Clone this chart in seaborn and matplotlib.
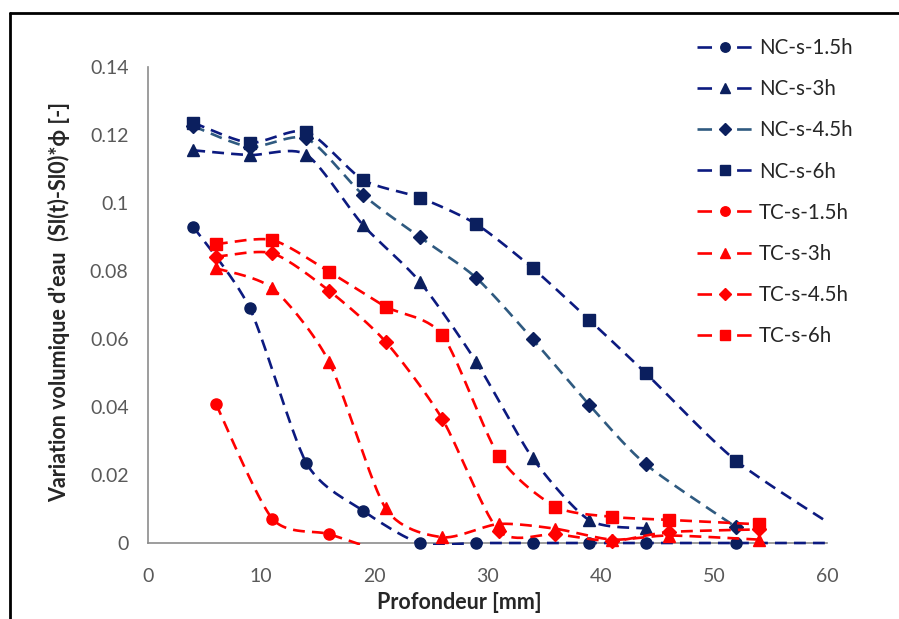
import numpy as np
import pandas as pd
import matplotlib
matplotlib.use("Agg")
import matplotlib.pyplot as plt
from matplotlib.lines import Line2D
from matplotlib.patches import Rectangle
import seaborn as sns

# depths [mm] -- NC and TC profiles are sampled at shifted positions
nc_depth = [4, 9, 14, 19, 24, 29, 34, 39, 44, 52, 62]
tc_depth = [6, 11, 16, 21, 26, 31, 36, 41, 46, 54]

# values (last NC points sit just outside the x range)
nc_1_5h = [0.093, 0.069, 0.0235, 0.0095, 0, 0, 0, 0, 0, 0, 0]
nc_3h = [0.1155, 0.1141, 0.1142, 0.0935, 0.0769, 0.0533, 0.0249, 0.0067, 0.0043]
nc_4_5h = [0.1226, 0.1165, 0.119, 0.1024, 0.0900, 0.0780, 0.0599, 0.0406, 0.0231, 0.0046]
nc_6h = [0.1236, 0.1177, 0.121, 0.1068, 0.1016, 0.0938, 0.0808, 0.0656, 0.0499, 0.0241, 0.0020]
tc_1_5h = [0.0409, 0.0071, 0.0026, -0.003]
tc_3h = [0.0808, 0.0749, 0.0533, 0.0102, 0.0017, 0.0056, 0.0042, 0.0010, 0.0022, 0.0010]
tc_4_5h = [0.0842, 0.0852, 0.0742, 0.0592, 0.0365, 0.0036, 0.0026, 0.0006, 0.0032, 0.0040]
tc_6h = [0.0879, 0.0891, 0.0798, 0.0695, 0.0612, 0.0256, 0.0107, 0.0077, 0.0068, 0.0055]

labels = ["NC-s-1.5h", "NC-s-3h", "NC-s-4.5h", "NC-s-6h",
          "TC-s-1.5h", "TC-s-3h", "TC-s-4.5h", "TC-s-6h"]
series = [(nc_depth, nc_1_5h), (nc_depth, nc_3h), (nc_depth, nc_4_5h), (nc_depth, nc_6h),
          (tc_depth, tc_1_5h), (tc_depth, tc_3h), (tc_depth, tc_4_5h), (tc_depth, tc_6h)]

navy_line = "#0c1a80"
navy_mark = "#0b1f5e"
steel = "#2f5a80"
red = "#ff0000"
line_colors = [navy_line, navy_line, steel, navy_line, red, red, red, red]
mark_colors = [navy_mark] * 4 + [red] * 4
markers = ["o", "^", "D", "s", "o", "^", "D", "s"]
msizes = [8, 9, 7, 8.5, 8, 9, 7, 8.5]

rows = []
for lab, (xs, ys) in zip(labels, series):
    for x, y in zip(xs, ys):
        rows.append({"series": lab, "depth": x, "value": y})
df = pd.DataFrame(rows)


def smooth(xs, ys, n=30, k=8):
    # excel-like smoothed line (catmull-rom style cubic bezier)
    p = np.column_stack([xs, ys]).astype(float)
    ext = np.vstack([p[0], p, p[-1]])
    out = []
    t = np.linspace(0, 1, n)[:, None]
    for i in range(len(p) - 1):
        p0, p1, p2, p3 = ext[i], ext[i + 1], ext[i + 2], ext[i + 3]
        c1 = p1 + (p2 - p0) / k
        c2 = p2 - (p3 - p1) / k
        seg = (1 - t) ** 3 * p1 + 3 * (1 - t) ** 2 * t * c1 + 3 * (1 - t) * t ** 2 * c2 + t ** 3 * p2
        out.append(seg if i == 0 else seg[1:])
    return np.vstack(out)


sns.set_style("white")
plt.rcParams["font.family"] = ["Lato", "DejaVu Sans"]

fig = plt.figure(figsize=(8.99, 6.19), dpi=100)
ax = fig.add_axes([148 / 899, 1 - 543 / 619, 679 / 899, 476 / 619])

clip = Rectangle((0, -0.005), 1, 1.01, transform=ax.transAxes, fill=False, visible=False)
ax.add_patch(clip)

lw = 1.9
for k, lab in enumerate(labels):
    sub = df[df["series"] == lab]
    curve = smooth(sub["depth"].values, sub["value"].values)
    sns.lineplot(x=curve[:, 0], y=curve[:, 1], ax=ax, sort=False, estimator=None,
                 color=line_colors[k], lw=lw, zorder=4 + 2 * k)
    ax.lines[-1].set_dashes((4.5, 2.7))
    ax.lines[-1].set_clip_path(clip)
    vis = sub[(sub["value"] >= 0) & (sub["depth"] <= 60)]
    ax.plot(vis["depth"], vis["value"], ls="none", marker=markers[k], ms=msizes[k],
            color=mark_colors[k], mec=mark_colors[k], clip_on=False, zorder=5 + 2 * k)

ax.set_xlim(0, 60)
ax.set_ylim(0, 0.14)
ax.set_xticks(range(0, 61, 10))
ax.set_yticks(np.arange(0, 0.141, 0.02))
ax.set_yticklabels(["0", "0.02", "0.04", "0.06", "0.08", "0.1", "0.12", "0.14"])
ax.tick_params(axis="both", length=0, labelsize=14, labelcolor="#595959")
ax.tick_params(axis="y", pad=14)
ax.tick_params(axis="x", pad=18)
for s in ["top", "right"]:
    ax.spines[s].set_visible(False)
for s in ["left", "bottom"]:
    ax.spines[s].set_color("#8c8c8c")
    ax.spines[s].set_linewidth(1.2)

ax.set_xlabel("Profondeur [mm]", fontsize=15.5, fontweight="bold")
ax.set_ylabel("Variation volumique d\u2019eau  (Sl(t)-Sl0)*\u03d5 [-]", fontsize=15.5, fontweight="bold")
ax.xaxis.set_label_coords(0.458, -0.103)
ax.yaxis.set_label_coords(-0.115, 0.506)

handles = []
for k in range(8):
    h_line = Line2D([], [], color=line_colors[k], lw=lw, dashes=(5.5, 9.5))
    h_mark = Line2D([], [], ls="none", marker=markers[k], ms=msizes[k] * 0.85, color=mark_colors[k])
    handles.append((h_line, h_mark))
ax.legend(handles, labels, loc="upper left", bbox_to_anchor=(697 / 899, 1 - 38 / 619),
          bbox_transform=fig.transFigure, frameon=False, fontsize=14.8, handlelength=2.7,
          labelspacing=1.03, borderpad=0, borderaxespad=0, handletextpad=0.3)

# outer frame of the original figure
fig.add_artist(Line2D([10 / 899, 10 / 899], [0, 1 - 13 / 619], transform=fig.transFigure, color="black", lw=2))
fig.add_artist(Line2D([10 / 899, 1], [1 - 13 / 619, 1 - 13 / 619], transform=fig.transFigure, color="black", lw=2))

fig.savefig("out.png", dpi=100)
